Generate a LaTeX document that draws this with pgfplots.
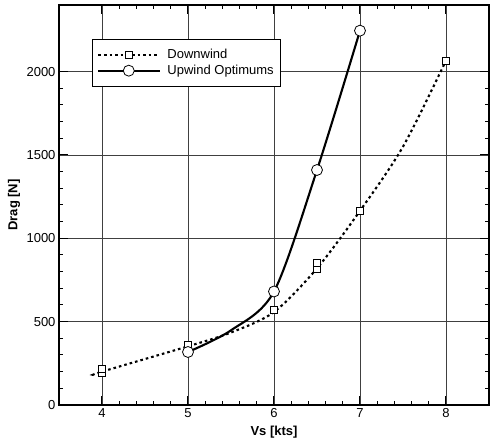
\documentclass[border=0pt]{standalone}
\usepackage{fontspec}
\setmainfont{Liberation Sans}
\usepackage{pgfplots}
\pgfplotsset{compat=1.18}
\tikzset{
  dwline/.style={black, line width=2.1pt, dash pattern=on 2.6pt off 3pt},
  upline/.style={black, line width=2.1pt},
}
\begin{document}
\begin{tikzpicture}
\begin{axis}[
  scale only axis,
  width=430pt, height=400pt,
  xmin=3.5, xmax=8.5, ymin=0, ymax=2400,
  xtick={4,5,6,7,8}, ytick={0,500,1000,1500,2000},
  minor x tick num=4, minor y tick num=4,
  tick align=inside,
  major tick length=9pt, minor tick length=4pt,
  every tick/.style={black, line width=1pt},
  axis line style={line width=1.8pt},
  grid=major,
  major grid style={black!75, line width=0.5pt},
  tick label style={font=\fontsize{13}{15}\selectfont},
  /pgf/number format/assume math mode=true,
  /pgf/number format/1000 sep={},
  xlabel={\textbf{Vs [kts]}},
  ylabel={\textbf{Drag [N]}},
  every axis y label/.style={at={(axis description cs:0,0.5)}, xshift=-45pt, rotate=90, anchor=center, font=\fontsize{13}{15}\selectfont},
  every axis x label/.style={at={(axis description cs:0.5,0)}, yshift=-27pt, anchor=center, font=\fontsize{13}{15}\selectfont},
  legend style={at={(0.0767,0.915)}, anchor=north west, draw=black, line width=0.6pt,
    font=\fontsize{13}{15}\selectfont, row sep=1pt, inner xsep=5pt, inner ysep=8pt},
  legend cell align=left,
  clip=false,
]
% Downwind fitted curve
\addplot[dwline, smooth, forget plot]
  coordinates {(3.9,180) (4,200) (5,352) (5.5,435) (6,558) (6.5,820) (7,1165) (7.5,1550) (8,2067)};
% Upwind curve
\addplot[upline, smooth, forget plot]
  coordinates {(5,318) (5.5,448) (6,681) (6.5,1410) (7,2246)};
% markers
\addplot[black, only marks, mark=square*, mark size=3.5pt,
  mark options={fill=white, solid, line width=0.8pt},
  legend image code/.code={
    \draw[dwline] (0cm,0cm) -- (2.15cm,0cm);
    \draw plot[mark=square*, mark size=3.5pt, mark options={fill=white, solid, line width=0.8pt}] coordinates {(1.07cm,0cm)};
    \path (2.35cm,0cm);
  }]
  coordinates {(4,190) (4,215) (5,362) (6,573) (6.5,815) (6.5,850) (7,1165) (8,2067)};
\addlegendentry{Downwind}
\addplot[black, only marks, mark=*, mark size=5.5pt,
  mark options={fill=white, line width=0.8pt},
  legend image code/.code={
    \draw[upline] (0cm,0cm) -- (2.15cm,0cm);
    \draw plot[mark=*, mark size=5.5pt, mark options={fill=white, line width=0.8pt}] coordinates {(1.07cm,0cm)};
    \path (2.35cm,0cm);
  }]
  coordinates {(5,318) (6,681) (6.5,1410) (7,2246)};
\addlegendentry{Upwind Optimums}
\end{axis}
\path (current axis.south west) ++(-59pt,-35pt) rectangle ++(491pt,440pt);
\end{tikzpicture}
\end{document}
